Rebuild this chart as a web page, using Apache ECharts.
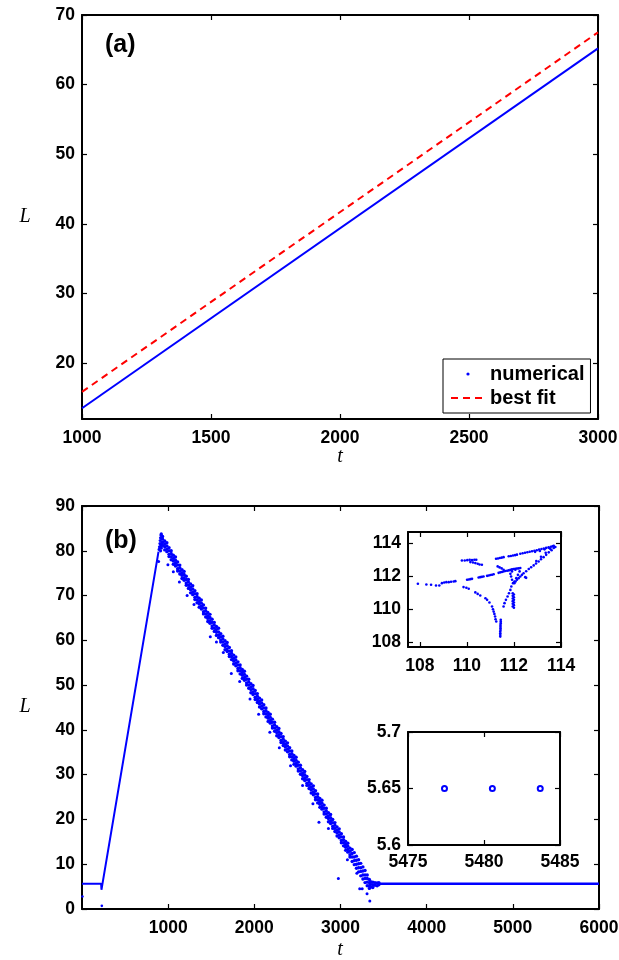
<!DOCTYPE html>
<html><head><meta charset="utf-8">
<script src="https://cdn.jsdelivr.net/npm/echarts@6/dist/echarts.min.js"></script>
<style>html,body{margin:0;padding:0;background:#fff}#c{width:619px;height:960px}</style>
</head><body><div id="c"></div>
<script>
// ---------- Panel (a) ----------
const aTicksX = [1000, 1500, 2000, 2500, 3000];
const aTicksY = [20, 30, 40, 50, 60, 70];
const aT = [1000, 3000];
const aNumerical = [13.55, 65.2];
const aBestFit = [15.9, 67.5];

// ---------- Panel (b) ----------
const bTicksY = [0, 10, 20, 30, 40, 50, 60, 70, 80, 90];
const bRiseLine = [[0, 5.65], [222, 5.65], [226, 4.3], [232, 5.0], [888, 79.8]];
const bTailLine = [[3440, 5.65], [6000, 5.65]];
const bStray = [[5, 2.8], [230, 0.7]];
const bPeak = [[895, 80.3], [900, 80.9], [905, 81.6], [908, 82.3], [912, 82.9], [916, 83.5], [920, 83.8], [924, 83.4], [928, 82.9], [918, 81.2], [922, 80.6], [930, 81.8], [912, 80.0]];
// rows: [t, L values...]
const bBand = [
[935,83.2,82.6,81.9,81.2],[960,82.2,81.5,80.9,80.2],[985,81.8,81.1,80.4,79.8],[1010,80.7,80.0,79.2,78.7],
[1035,80.0,79.4,78.7,78.0],[1060,79.0,78.3,77.7,77.0],[1085,78.6,77.9,77.2,76.6],[1110,77.5,76.8,76.0,75.5],
[1135,76.8,76.2,75.5,74.8],[1160,75.8,75.1,74.5,73.8],[1185,75.4,74.7,74.0,73.4],[1210,74.3,73.6,72.8,72.3],
[1235,73.6,73.0,72.3,71.6],[1260,72.6,71.9,71.3,70.6],[1285,72.2,71.5,70.8,70.2],[1310,71.1,70.4,69.6,69.1],
[1335,70.4,69.8,69.1,68.4],[1360,69.4,68.7,68.1,67.4],[1385,69.0,68.3,67.6,67.0],[1410,67.9,67.2,66.4,65.9],
[1435,67.2,66.6,65.9,65.2],[1460,66.2,65.5,64.9,64.2],[1485,65.8,65.1,64.4,63.8],[1510,64.7,64.0,63.2,62.7],
[1535,64.0,63.4,62.7,62.0],[1560,63.1,62.4,61.8,61.1],[1585,62.7,61.9,61.2,60.6],[1610,61.5,60.8,60.1,59.6],
[1635,60.9,60.3,59.6,58.9],[1660,59.9,59.2,58.6,57.9],[1685,59.5,58.8,58.1,57.5],[1710,58.4,57.6,56.9,56.4],
[1735,57.7,57.1,56.4,55.7],[1760,56.7,56.0,55.4,54.7],[1785,56.3,55.6,54.9,54.3],[1810,55.2,54.5,53.7,53.2],
[1835,54.5,53.9,53.2,52.5],[1860,53.5,52.8,52.2,51.5],[1885,53.1,52.4,51.7,51.1],[1910,52.0,51.3,50.5,50.0],
[1935,51.3,50.7,50.0,49.3],[1960,50.3,49.6,49.0,48.3],[1985,49.9,49.2,48.5,47.9],[2010,48.8,48.1,47.3,46.8],
[2035,48.1,47.5,46.8,46.1],[2060,47.1,46.4,45.8,45.1],[2085,46.7,46.0,45.3,44.7],[2110,45.6,44.9,44.1,43.6],
[2135,44.9,44.3,43.6,42.9],[2160,43.9,43.2,42.6,41.9],[2185,43.5,42.8,42.1,41.5],[2210,42.4,41.7,40.9,40.4],
[2235,41.7,41.1,40.4,39.7],[2260,40.7,40.0,39.4,38.7],[2285,40.3,39.6,38.9,38.3],[2310,39.2,38.5,37.7,37.2],
[2335,38.5,37.9,37.2,36.5],[2360,37.5,36.8,36.2,35.5],[2385,37.1,36.4,35.7,35.1],[2410,36.0,35.3,34.5,34.0],
[2435,35.3,34.7,34.0,33.3],[2460,34.3,33.6,33.0,32.3],[2485,33.9,33.2,32.5,31.9],[2510,32.8,32.1,31.3,30.8],
[2535,32.1,31.5,30.8,30.1],[2560,31.1,30.4,29.8,29.1],[2585,30.7,30.0,29.3,28.7],[2610,29.6,28.9,28.1,27.6],
[2635,28.9,28.3,27.6,26.9],[2660,27.9,27.2,26.6,25.9],[2685,27.5,26.8,26.1,25.5],[2710,26.4,25.7,24.9,24.4],
[2735,25.7,25.1,24.4,23.7],[2760,24.7,24.0,23.4,22.7],[2785,24.3,23.6,22.9,22.3],[2810,23.2,22.5,21.7,21.2],
[2835,22.5,21.9,21.2,20.5],[2860,21.5,20.8,20.2,19.5],[2885,21.1,20.4,19.7,19.1],[2910,20.0,19.3,18.5,18.0],
[2935,19.3,18.7,18.0,17.3],[2960,18.3,17.6,17.0,16.3],[2985,17.9,17.2,16.5,15.9],[3010,16.8,16.1,15.3,14.8],
[3035,16.1,15.5,14.8,14.1],[3060,15.1,14.4,13.8,13.1],[3085,14.7,14.0,13.3,12.7],[3110,13.6,12.9,12.1,11.6],
[3135,13.3,12.4,11.6,10.6],[3160,12.6,11.6,10.8,9.9],[3185,11.8,10.9,10.0,9.1],[3210,11.0,10.1,9.2,8.3],
[3235,10.2,9.2,8.4,7.4],[3260,9.4,8.5,7.6,6.7],[3285,8.6,7.6,6.8,5.9],[3310,7.6,6.8,6.0,5.2],
[3335,6.6,5.9,5.2,4.6],[3350,6.1,5.5,4.9],[3375,6.0,5.4,4.8],[3400,5.9,5.3],[3425,5.8,5.2],[3445,5.9,5.4]
];
const bOutliers = [[889,77.6],[997,76.9],[1060,75.3],[1130,73.0],[1220,70.0],[1300,68.0],[1489,60.8],[1560,59.6],
[1640,57.3],[1733,52.6],[1830,50.8],[1950,46.9],[2050,43.5],[2180,39.5],[2290,36.0],[2420,32.0],[2560,27.6],
[2680,23.5],[2750,19.4],[2860,18.0],[2975,6.8],[3080,11.0],[3190,8.0],[3223,4.5],[3252,4.5],[3308,3.4],[3340,1.8]];

// ---------- Inset 1 ----------
const i1Ticks = [108, 110, 112, 114];
const i1Points = [
[107.92,111.52],[108.28,111.48],[108.48,111.46],[108.69,111.42],[108.83,111.42],[108.94,111.56],[109.04,111.6],[109.13,111.62],[109.23,111.62],[109.33,111.64],[109.44,111.66],[109.51,111.68],
[109.79,112.93],[109.91,112.93],[110.02,112.95],[110.12,112.97],[110.22,112.95],[110.32,112.97],[110.40,112.97],[110.15,112.83],[110.26,112.81],[110.36,112.77],[110.46,112.73],[110.54,112.69],[110.64,112.67],
[111.24,113.03],[111.32,113.05],[111.40,113.08],[111.48,113.10],[111.56,113.13],
[111.78,113.18],[111.87,113.2],[111.96,113.23],[112.05,113.25],[112.13,113.28],
[112.27,113.34],[112.37,113.37],[112.47,113.40],[112.57,113.43],[112.67,113.46],[112.77,113.49],[112.87,113.52],[112.97,113.55],[113.07,113.59],[113.17,113.62],[113.27,113.65],[113.37,113.69],[113.47,113.72],[113.57,113.76],[113.64,113.79],[113.69,113.82],
[112.9,113.45],[113.1,113.5],[113.3,113.6],[113.5,113.68],[113.7,113.74],[113.76,113.74],
[113.69,113.68],[113.6,113.55],[113.48,113.42],[113.37,113.27],[113.26,113.13],[113.15,113.0],[113.05,112.87],[112.94,112.75],[112.84,112.63],[112.73,112.52],[112.63,112.41],[112.52,112.28],[112.41,112.16],[112.34,112.06],[112.27,111.96],[112.2,111.86],[112.13,111.76],[112.07,111.66],[112.02,111.56],
[113.55,113.62],[113.35,113.4],[113.15,113.15],[112.95,112.9],[112.48,111.92],[112.52,111.88],
[110.01,111.76],[110.08,111.78],[110.15,111.8],[110.22,111.82],
[110.5,111.9],[110.57,111.92],[110.64,111.94],[110.71,111.96],
[110.86,112.0],[110.93,112.02],[111.0,112.05],[111.07,112.07],[111.14,112.1],
[111.35,112.18],[111.42,112.21],[111.49,112.23],[111.56,112.26],[111.63,112.29],[111.71,112.31],[111.78,112.33],[111.85,112.36],[111.92,112.39],[111.99,112.41],[112.06,112.43],[112.13,112.44],[112.2,112.45],[112.27,112.47],
[112.06,112.37],[111.92,112.27],[111.85,112.12],[111.88,111.96],[111.92,111.76],[111.96,111.56],[112.24,112.27],[112.17,112.06],[112.1,111.86],[112.02,111.66],
[111.31,112.57],[111.39,112.51],[111.48,112.45],[111.56,112.37],
[109.86,111.32],[109.98,111.28],[110.08,111.22],[110.36,111.0],[110.46,110.91],[110.57,110.81],
[110.79,110.65],[110.86,110.55],[110.96,110.39],[111.07,110.15],[111.11,109.98],[111.14,109.84],[111.17,109.7],[111.2,109.54],[111.22,109.38],[111.25,109.24],
[111.44,109.34],[111.44,109.14],[111.43,108.93],[111.43,108.73],[111.42,108.53],[111.42,108.33],[111.44,109.24],[111.43,109.03],[111.43,108.83],[111.42,108.63],[111.42,108.43],
[111.56,110.15],[111.6,110.35],[111.66,110.55],[111.73,110.75],[111.79,110.95],[111.85,111.15],[111.89,111.36],
[111.95,110.95],[111.95,110.79],[111.95,110.63],[111.95,110.47],[111.95,110.31],[111.95,110.15],[112.0,110.87],[112.0,110.71],[112.0,110.55],[112.0,110.39],[112.0,110.23],[112.0,110.07]
];

// ---------- Inset 2 ----------
const i2T = [5477.4, 5480.55, 5483.7];
const i2L = [5.65, 5.65, 5.65];

// ---------- build ----------
const FONT = 'Liberation Sans';
const BLUE = '#0000ff', RED = '#ff0000';
const plain = v => String(+v.toFixed(4));
const labelStyle = {fontFamily: FONT, fontWeight: 'bold', fontSize: 17.5, color: '#000', formatter: plain};

function baseAxis(g, min, max) {
  return {
    type: 'value', gridIndex: g, min: min, max: max,
    axisLine: {show: true, onZero: false, lineStyle: {color: '#000', width: 2}},
    axisTick: {show: true, inside: true, length: 5, lineStyle: {color: '#000', width: 1.2}},
    splitLine: {show: false}
  };
}
function makePair(g, min, max, extra, labelExtra, tickVals, pos1, pos2, margin) {
  const base = baseAxis(g, min, max);
  const a = Object.assign({}, base, extra, {position: pos1,
    axisLabel: Object.assign({}, labelStyle, {margin: margin}, labelExtra)});
  const b = Object.assign({}, base, extra, {position: pos2, axisLabel: {show: false}});
  if (tickVals) {
    a.axisTick = Object.assign({}, base.axisTick, {customValues: tickVals});
    a.axisLabel.customValues = tickVals;
    b.axisTick = Object.assign({}, base.axisTick, {customValues: tickVals});
  }
  return [a, b];
}
const xAx = (g, min, max, extra, le, tv) => makePair(g, min, max, extra, le, tv, 'bottom', 'top', 10);
const yAx = (g, min, max, extra, le, tv) => makePair(g, min, max, extra, le, tv, 'left', 'right', 7);

const xAxes = [].concat(
  xAx(0, 1000, 3000, {interval: 500}, {}),
  xAx(1, 0, 6000, {interval: 1000}, {showMinLabel: false}),
  xAx(2, 107.5, 114, {}, {}, i1Ticks),
  xAx(3, 5475, 5485, {interval: 5}, {margin: 8})
);
const yAxes = [].concat(
  yAx(0, 12, 70, {}, {}, aTicksY),
  yAx(1, 0, 90, {interval: 10}, {}),
  yAx(2, 107.7, 114.65, {}, {}, i1Ticks),
  yAx(3, 5.6, 5.7, {interval: 0.05}, {})
);

const bandData = [];
bBand.forEach(r => { for (let k = 1; k < r.length; k++) bandData.push([r[0], r[k]]); });

const dotStyle = {color: BLUE, opacity: 1};
const series = [
  {name: 'numerical', type: 'line', xAxisIndex: 0, yAxisIndex: 0,
   data: aT.map((t, i) => [t, aNumerical[i]]), symbol: 'circle', showSymbol: false,
   lineStyle: {color: BLUE, width: 2}, itemStyle: {color: BLUE}},
  {name: 'best fit', type: 'line', xAxisIndex: 0, yAxisIndex: 0,
   data: aT.map((t, i) => [t, aBestFit[i]]), symbol: 'circle', showSymbol: false,
   lineStyle: {color: RED, width: 2, type: [7, 5]}, itemStyle: {color: RED}},
  {type: 'line', xAxisIndex: 2, yAxisIndex: 2, data: bRiseLine, showSymbol: false, symbol: 'none',
   lineStyle: {color: BLUE, width: 2}},
  {type: 'line', xAxisIndex: 2, yAxisIndex: 2, data: bTailLine, showSymbol: false, symbol: 'none',
   lineStyle: {color: BLUE, width: 2.5}},
  {type: 'scatter', xAxisIndex: 2, yAxisIndex: 2, data: bandData, symbol: 'circle', symbolSize: 3.4, itemStyle: dotStyle},
  {type: 'scatter', xAxisIndex: 2, yAxisIndex: 2, data: bPeak, symbol: 'circle', symbolSize: 3.2, itemStyle: dotStyle},
  {type: 'scatter', xAxisIndex: 2, yAxisIndex: 2, data: bOutliers, symbol: 'circle', symbolSize: 3, itemStyle: dotStyle},
  {type: 'scatter', xAxisIndex: 2, yAxisIndex: 2, data: bStray, symbol: 'circle', symbolSize: 2.6, itemStyle: dotStyle},
  {type: 'scatter', xAxisIndex: 4, yAxisIndex: 4, data: i1Points, symbol: 'circle', symbolSize: 2.6, itemStyle: dotStyle},
  {type: 'scatter', xAxisIndex: 6, yAxisIndex: 6, data: i2T.map((t, i) => [t, i2L[i]]), symbol: 'emptyCircle', symbolSize: 5,
   itemStyle: {color: BLUE, borderColor: BLUE, borderWidth: 1, opacity: 1}}
];

const serifItalic = 'italic 20px "Liberation Serif", "DejaVu Serif", serif';
const boldLab = 'bold 25px "Liberation Sans", Arial, sans-serif';
const texts = [
  {t: '(a)', x: 105, y: 45, font: boldLab, align: 'left'},
  {t: '(b)', x: 105, y: 541, font: boldLab, align: 'left'},
  {t: 'L', x: 25, y: 217, font: serifItalic, align: 'center'},
  {t: 'L', x: 25, y: 707, font: serifItalic, align: 'center'},
  {t: 't', x: 340, y: 457, font: serifItalic, align: 'center'},
  {t: 't', x: 340, y: 950, font: serifItalic, align: 'center'}
];

const option = {
  animation: false,
  backgroundColor: '#fff',
  grid: [
    {left: 82, top: 15, width: 516, height: 404, outerBoundsMode: 'none', containLabel: false},
    {left: 82, top: 506, width: 517, height: 403, outerBoundsMode: 'none', containLabel: false},
    {left: 408, top: 532, width: 153, height: 115, outerBoundsMode: 'none', containLabel: false},
    {left: 408, top: 732, width: 152, height: 113, outerBoundsMode: 'none', containLabel: false}
  ],
  xAxis: xAxes,
  yAxis: yAxes,
  legend: {
    orient: 'vertical', left: 443, top: 359, padding: [5, 6, 5, 7],
    itemWidth: 34, itemHeight: 4, itemGap: 4, selectedMode: false,
    backgroundColor: '#fff', borderColor: '#000', borderWidth: 1, borderRadius: 0,
    textStyle: {fontFamily: FONT, fontWeight: 'bold', fontSize: 20, lineHeight: 20, color: '#000'},
    data: [
      {name: 'numerical', lineStyle: {opacity: 0}, itemStyle: {color: BLUE}},
      {name: 'best fit', itemStyle: {opacity: 0}}
    ]
  },
  graphic: texts.map(o => ({type: 'text', style: {text: o.t, x: o.x, y: o.y, font: o.font, fill: '#000', align: o.align, verticalAlign: 'middle'}, z: 100})),
  series: series
};

const chart = echarts.init(document.getElementById('c'), null, {renderer: 'canvas'});
chart.setOption(option);
</script></body></html>
